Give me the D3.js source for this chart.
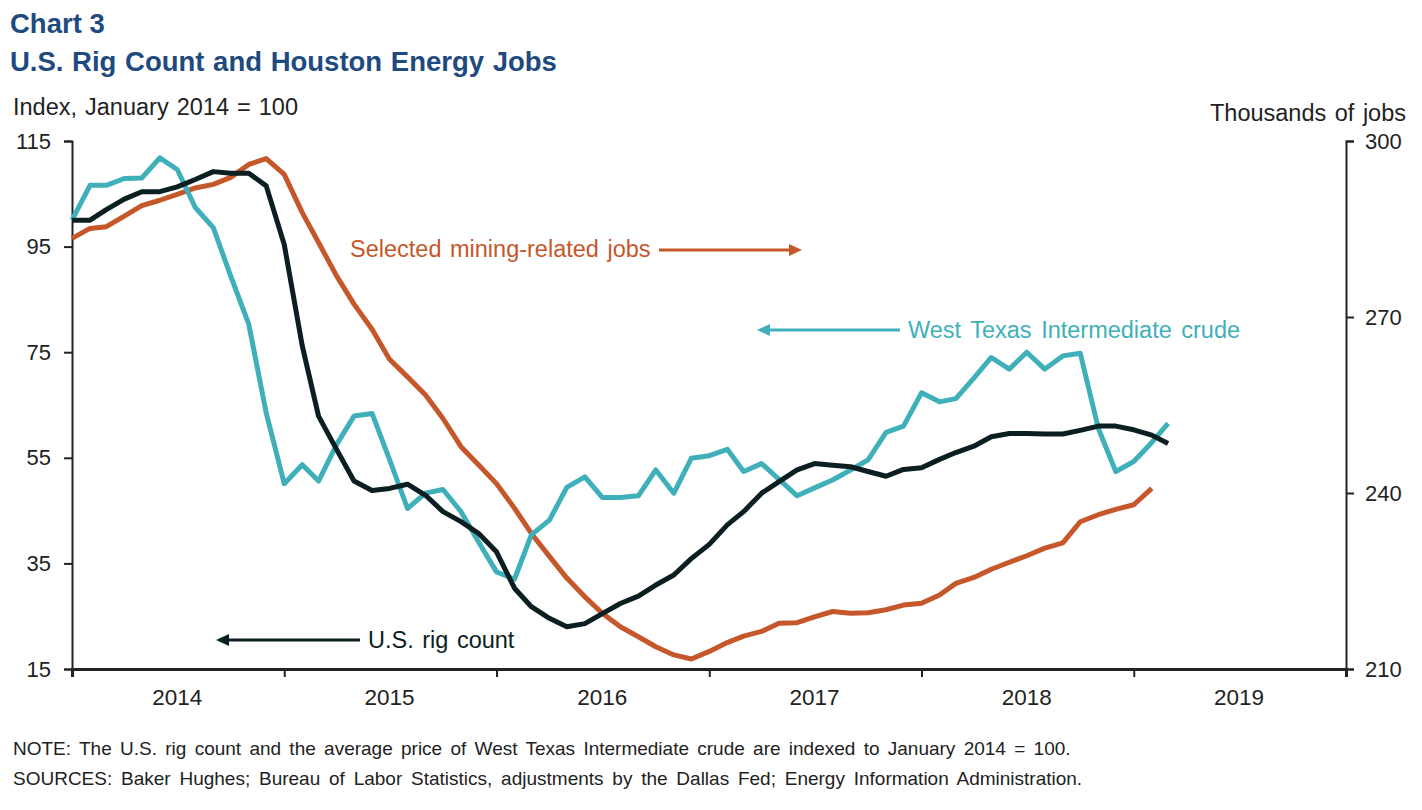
<!DOCTYPE html>
<html>
<head>
<meta charset="utf-8">
<script src="https://cdnjs.cloudflare.com/ajax/libs/d3/7.8.5/d3.min.js"></script>
<style>
  body { margin: 0; background: #fff; }
  svg text { font-family: "Liberation Sans", Arial, sans-serif; }
</style>
</head>
<body>
<div id="chart"></div>
<script>
// monthly values starting January 2014
const startMonth = new Date(2014, 0, 1);
const rigCount = [100, 100, 102, 104, 105.4, 105.4, 106.3, 107.7, 109.2, 108.9,
  108.9, 106.5, 95.4, 76.2, 62.9, 56.6, 50.6, 48.8, 49.2, 50.0,
  47.9, 44.8, 42.9, 40.7, 37.2, 30.3, 26.8, 24.6, 23.0, 23.6,
  25.5, 27.4, 28.8, 30.9, 32.8, 35.9, 38.6, 42.3, 44.8, 48.3,
  50.5, 52.7, 53.9, 53.6, 53.3, 52.4, 51.5, 52.8, 53.1, 54.7,
  56.0, 57.2, 59.0, 59.6, 59.6, 59.5, 59.5, 60.2, 61.0, 61.0,
  60.3, 59.3, 57.7];
const wtiCrude = [100, 106.6, 106.6, 107.9, 108, 111.8, 109.6, 102.4, 98.6, 89.4,
  80.3, 63.5, 50.1, 53.7, 50.6, 57.5, 62.9, 63.4, 54.7, 45.4,
  48.3, 49.0, 44.8, 39.1, 33.4, 32.0, 40.4, 43.2, 49.4, 51.4,
  47.5, 47.5, 47.8, 52.7, 48.3, 54.9, 55.4, 56.6, 52.4, 53.9,
  50.9, 47.8, 49.3, 50.8, 52.7, 54.6, 59.8, 61.0, 67.3, 65.6,
  66.2, 70.1, 74.0, 71.8, 75.0, 71.8, 74.3, 74.8, 60.6, 52.4,
  54.3, 57.9, 61.5];
// thousands of jobs (right axis)
const miningJobs = [283.4, 285.1, 285.4, 287.2, 289.0, 289.9, 290.9, 292.0, 292.6, 293.8,
  296.0, 297.0, 294.3, 287.8, 282.7, 277.0, 272.2, 267.9, 262.8, 259.8,
  256.7, 252.7, 247.9, 244.8, 241.6, 237.4, 233.1, 229.2, 225.5, 222.3,
  219.5, 217.2, 215.5, 213.8, 212.4, 211.7, 213.0, 214.5, 215.6, 216.4,
  217.8, 217.9, 218.9, 219.8, 219.5, 219.6, 220.1, 220.9, 221.2, 222.6,
  224.6, 225.6, 227.0, 228.2, 229.3, 230.6, 231.5, 235.1, 236.3, 237.2,
  238.0, 240.8];
const leftTicks = [15, 35, 55, 75, 95, 115];
const rightTicks = [210, 240, 270, 300];
const yearLabels = [2014, 2015, 2016, 2017, 2018, 2019];

const width = 1422, height = 810;
const plotLeft = 72, plotRight = 1346, plotTop = 141, plotBottom = 669;
const darkCol = "#0b1e21", tealCol = "#3fb0ba", orangeCol = "#c5572b", axisCol = "#222";
const titleCol = "#1f4a80";

const svg = d3.select("#chart").append("svg")
  .attr("width", width)
  .attr("height", height);

const x = d3.scaleTime()
  .domain([new Date(2014, 0, 1), new Date(2020, 0, 1)])
  .range([plotLeft, plotRight]);
const yL = d3.scaleLinear().domain([15, 115]).range([plotBottom, plotTop]);
const yR = d3.scaleLinear().domain([210, 300]).range([plotBottom, plotTop]);

const monthOf = i => d3.timeMonth.offset(startMonth, i);

// titles
svg.append("text").attr("x", 10).attr("y", 33)
  .attr("font-size", 27.5).attr("font-weight", "bold").attr("fill", titleCol)
  .text("Chart 3");
svg.append("text").attr("x", 10).attr("y", 71)
  .attr("font-size", 27.5).attr("font-weight", "bold").attr("fill", titleCol)
  .attr("word-spacing", 1)
  .text("U.S. Rig Count and Houston Energy Jobs");
svg.append("text").attr("x", 13).attr("y", 115)
  .attr("font-size", 23.5).attr("fill", axisCol).attr("word-spacing", 1.5)
  .text("Index, January 2014 = 100");
svg.append("text").attr("x", 1406).attr("y", 121)
  .attr("font-size", 23.5).attr("fill", axisCol).attr("text-anchor", "end")
  .attr("word-spacing", 2)
  .text("Thousands of jobs");

// left axis
const gL = svg.append("g").attr("transform", `translate(${plotLeft},0)`)
  .call(d3.axisLeft(yL).tickValues(leftTicks).tickSize(8).tickPadding(13));
// right axis
const gR = svg.append("g").attr("transform", `translate(${plotRight},0)`)
  .call(d3.axisRight(yR).tickValues(rightTicks).tickSize(8).tickPadding(11));
// bottom axis (year boundaries)
const gX = svg.append("g").attr("transform", `translate(0,${plotBottom})`)
  .call(d3.axisBottom(x).ticks(d3.timeYear.every(1)).tickSize(8).tickFormat(""));

[gL, gR, gX].forEach(g => {
  g.select(".domain").attr("stroke", axisCol).attr("stroke-width", 2);
  g.selectAll(".tick line").attr("stroke", axisCol).attr("stroke-width", 2);
  g.selectAll(".tick text").attr("font-size", 22).attr("fill", axisCol)
    .attr("font-family", "Liberation Sans, Arial, sans-serif");
});
gX.select(".domain").attr("stroke-width", 3);

// year labels centred in each year
svg.append("g").selectAll("text")
  .data(yearLabels)
  .enter().append("text")
  .attr("x", d => x(new Date(d, 6, 1)))
  .attr("y", 705)
  .attr("text-anchor", "middle")
  .attr("font-size", 22.5).attr("fill", axisCol)
  .text(d => d);

// lines
const lineL = d3.line().x((d, i) => x(monthOf(i))).y(d => yL(d));
const lineR = d3.line().x((d, i) => x(monthOf(i))).y(d => yR(d));

svg.append("path").datum(miningJobs).attr("d", lineR)
  .attr("fill", "none").attr("stroke", orangeCol).attr("stroke-width", 5)
  .attr("stroke-linejoin", "round");
svg.append("path").datum(wtiCrude).attr("d", lineL)
  .attr("fill", "none").attr("stroke", tealCol).attr("stroke-width", 5)
  .attr("stroke-linejoin", "round");
svg.append("path").datum(rigCount).attr("d", lineL)
  .attr("fill", "none").attr("stroke", darkCol).attr("stroke-width", 5)
  .attr("stroke-linejoin", "round");

// arrow labels
function arrow(x1, x2, y, col) {
  const dir = x2 > x1 ? 1 : -1;
  svg.append("line").attr("x1", x1).attr("y1", y).attr("x2", x2 - dir * 10).attr("y2", y)
    .attr("stroke", col).attr("stroke-width", 3);
  svg.append("path")
    .attr("d", `M${x2},${y} L${x2 - dir * 13},${y - 6} L${x2 - dir * 13},${y + 6} Z`)
    .attr("fill", col);
}
svg.append("text").attr("x", 350).attr("y", 257)
  .attr("font-size", 23.5).attr("fill", orangeCol).attr("word-spacing", 2)
  .text("Selected mining-related jobs");
arrow(659, 802, 250, orangeCol);

svg.append("text").attr("x", 908).attr("y", 338)
  .attr("font-size", 23.5).attr("fill", tealCol).attr("word-spacing", 3)
  .text("West Texas Intermediate crude");
arrow(900, 757, 330, tealCol);

svg.append("text").attr("x", 368).attr("y", 648)
  .attr("font-size", 23.5).attr("fill", darkCol).attr("word-spacing", 2)
  .text("U.S. rig count");
arrow(360, 216, 640, darkCol);

// notes
svg.append("text").attr("x", 13).attr("y", 755)
  .attr("font-size", 19).attr("fill", axisCol).attr("word-spacing", 3)
  .text("NOTE: The U.S. rig count and the average price of West Texas Intermediate crude are indexed to January 2014 = 100.");
svg.append("text").attr("x", 13).attr("y", 785)
  .attr("font-size", 19).attr("fill", axisCol).attr("word-spacing", 3.5)
  .text("SOURCES: Baker Hughes; Bureau of Labor Statistics, adjustments by the Dallas Fed; Energy Information Administration.");
</script>
</body>
</html>
